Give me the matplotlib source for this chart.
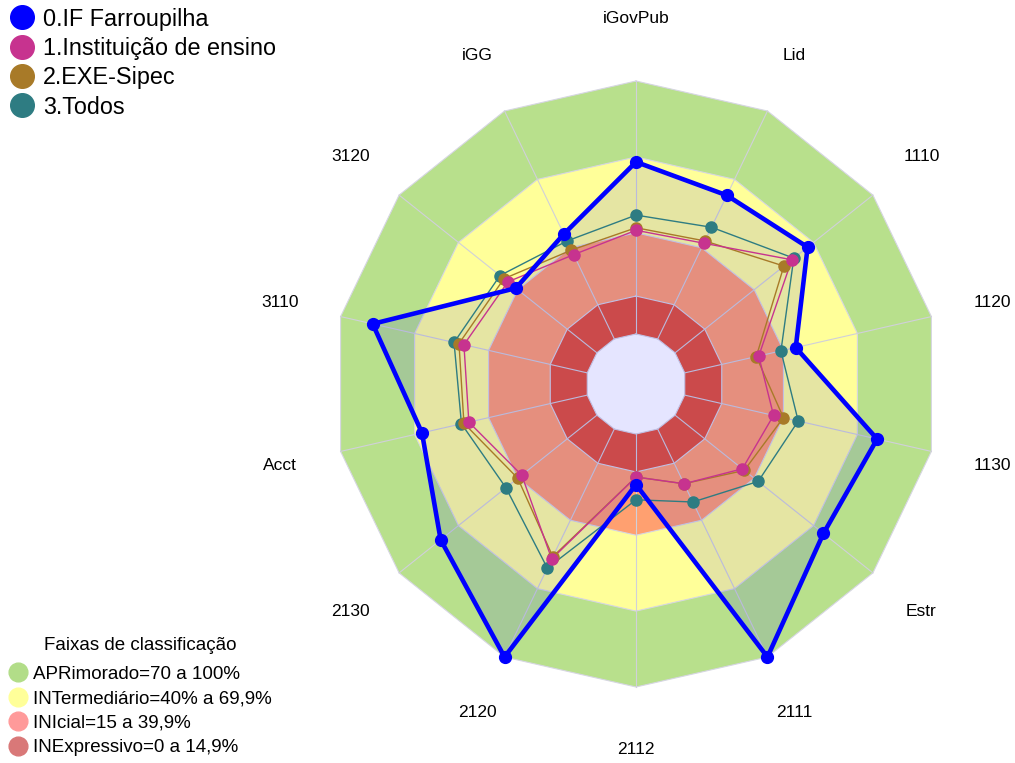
import numpy as np
import matplotlib
matplotlib.use("Agg")
import matplotlib.pyplot as plt
from matplotlib.lines import Line2D

plt.rcParams['font.family'] = ['Liberation Sans', 'DejaVu Sans']

# eixos do radar (sentido horario a partir do topo)
eixos = ['iGovPub', 'Lid', '1110', '1120', '1130', 'Estr', '2111',
         '2112', '2120', '2130', 'Acct', '3110', '3120', 'iGG']

# valores (%)
if_farroupilha = [68, 63, 67, 45, 78, 75, 100, 20, 100, 79, 67, 87, 41, 46]
inst_ensino    = [41, 42, 59, 30, 36, 34, 24, 17, 57, 38, 48, 50, 45, 37]
exe_sipec      = [42, 43, 55, 29, 40, 35, 24, 17, 56, 40, 50, 52, 47, 39]
todos          = [47, 49, 60, 39, 46, 42, 32, 26, 61, 46, 51, 54, 49, 43]

series_nomes = ['0.IF Farroupilha', '1.Instituição de ensino', '2.EXE-Sipec', '3.Todos']
series_cores = ['#0000FF', '#C7338F', '#A87A28', '#2E7C82']

# faixas de classificacao
faixas_lim = [0, 15, 40, 70, 100]
faixas_cores = ['#E35337', '#FFA070', '#FFFF99', '#B8E08C']
faixas_nomes = ['APRimorado=70 a 100%', 'INTermediário=40% a 69,9%',
                'INIcial=15 a 39,9%', 'INExpressivo=0 a 14,9%']
faixas_leg_cores = ['#B2DD88', '#FFFF99', '#FF9A9A', '#D97878']

W, H = 1015, 763
cx, cy, R = 636, 384, 303
furo = 50 / 303.0

n = len(eixos)
theta = np.arange(n) * 2 * np.pi / n


def raio(v):
    return furo + np.asarray(v, dtype=float) / 100.0 * (1 - furo)


def xy(r):
    r = np.broadcast_to(r, theta.shape)
    return r * np.sin(theta), r * np.cos(theta)


fig = plt.figure(figsize=(W / 100, H / 100), dpi=100)
ax = fig.add_axes([0, 0, 1, 1])
ax.set_xlim(-cx / R, (W - cx) / R)
ax.set_ylim(-(H - cy) / R, cy / R)
ax.axis('off')

# faixas (de fora para dentro)
for lim, cor in zip(faixas_lim[::-1][:-1], faixas_cores[::-1]):
    x, y = xy(raio(lim))
    ax.fill(x, y, color=cor, lw=0, zorder=1)
x, y = xy(furo)
ax.fill(x, y, color='white', lw=0, zorder=1)

# contornos e raios da grade
for lim in faixas_lim:
    x, y = xy(raio(lim))
    ax.plot(np.append(x, x[0]), np.append(y, y[0]), color='#D6D6E2', lw=0.8, zorder=2)
xi, yi = xy(furo)
xo, yo = xy(1.0)
for a, b, c, d in zip(xi, yi, xo, yo):
    ax.plot([a, c], [b, d], color='#D0D0DA', lw=0.8, zorder=2)

# preenchimento da serie principal
x, y = xy(raio(if_farroupilha))
ax.fill(x, y, color='#0000FF', alpha=0.1, lw=0, zorder=3)

# series
dados = [if_farroupilha, inst_ensino, exe_sipec, todos]
for k in [3, 2, 1, 0]:
    x, y = xy(raio(dados[k]))
    xs, ys = np.append(x, x[0]), np.append(y, y[0])
    if k == 0:
        ax.plot(xs, ys, color=series_cores[k], lw=3.3, zorder=6)
        ax.plot(x, y, 'o', color=series_cores[k], ms=8.5, zorder=7)
    else:
        ax.plot(xs, ys, color=series_cores[k], lw=1.0, zorder=4)
        ax.plot(x, y, 'o', color=series_cores[k], ms=8, zorder=5)

# rotulos dos eixos
xl, yl = xy(1.205)
for a, b, nome in zip(xl, yl, eixos):
    ax.text(a, b, nome, ha='center', va='center', fontsize=12.5, color='black')

# legenda das series
h1 = [Line2D([], [], ls='none', marker='o', ms=17, color=c) for c in series_cores]
leg1 = fig.legend(h1, series_nomes, loc='upper left', bbox_to_anchor=(-0.006, 1.0114),
                  frameon=False, fontsize=16.8, handlelength=1.0, handletextpad=0.4,
                  labelspacing=0.27, borderaxespad=0.3)

# legenda das faixas
fig.text(140 / W, 1 - 645 / H, 'Faixas de classificação', ha='center', va='center',
         fontsize=13.5)
h2 = [Line2D([], [], ls='none', marker='o', ms=13.5, color=c) for c in faixas_leg_cores]
leg2 = fig.legend(h2, faixas_nomes, loc='lower left', bbox_to_anchor=(-0.008, -0.0132),
                  frameon=False, fontsize=13.5, handlelength=1.0, handletextpad=0.3,
                  labelspacing=0.39)

fig.savefig('out.png', dpi=100)
